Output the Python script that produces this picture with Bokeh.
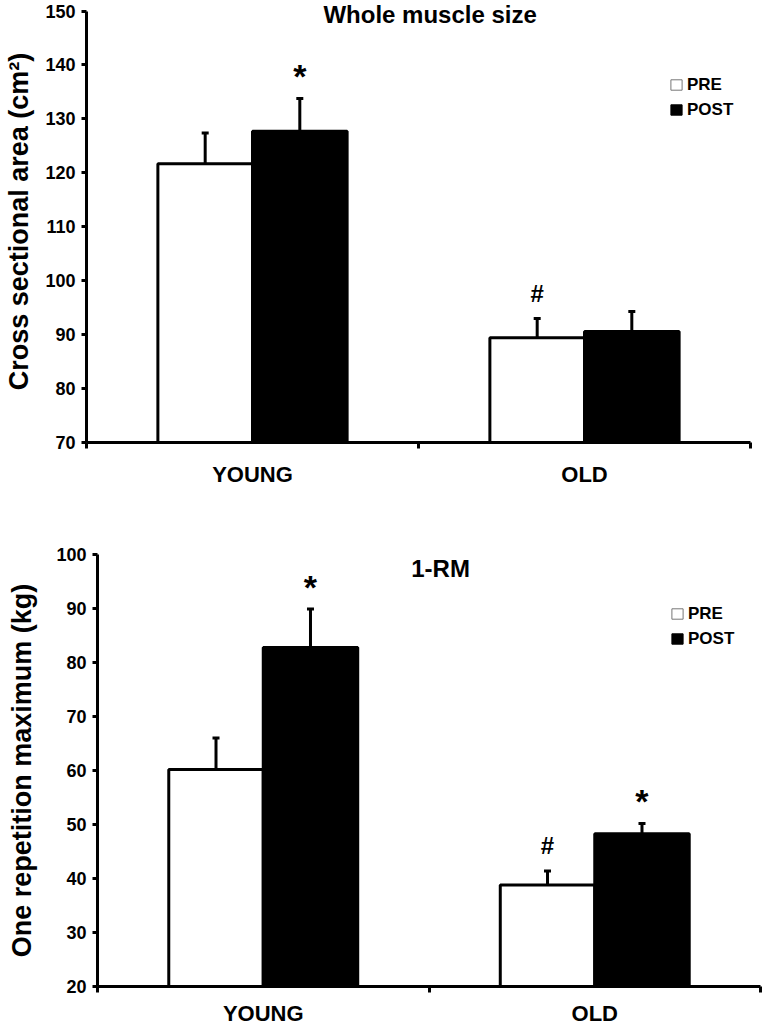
from bokeh.plotting import figure
from bokeh.layouts import column, row
from bokeh.models import Range1d, FixedTicker, Legend, LegendItem, Label
from bokeh.core.properties import value
from bokeh.embed import file_html
from bokeh.resources import INLINE

# ---------------- data ----------------
groups = ["YOUNG", "OLD"]

csa_pre = [121.7, 89.4]
csa_pre_se = [5.7, 3.6]
csa_post = [127.7, 90.6]
csa_post_se = [6.1, 3.7]
csa_pre_marks = ["", "#"]
csa_post_marks = ["*", ""]
csa_ticks = [70, 80, 90, 100, 110, 120, 130, 140, 150]

rm_pre = [60.2, 38.8]
rm_pre_se = [5.8, 2.6]
rm_post = [82.8, 48.3]
rm_post_se = [7.1, 1.9]
rm_pre_marks = ["", "#"]
rm_post_marks = ["*", "*"]
rm_ticks = [20, 30, 40, 50, 60, 70, 80, 90, 100]

FONT = "Liberation Sans"
BAR_W = 0.285


def make_panel(title, ylabel, ticks, pre, pre_se, post, post_se, pre_marks, post_marks,
               width, height, mb_left, mb_right, mb_top, mb_bottom, y_end, legend_xy,
               ylabel_standoff, xlabel_standoff):
    n = len(groups)
    centers = [i + 0.5 for i in range(n)]
    x_pre = [c - BAR_W / 2 for c in centers]
    x_post = [c + BAR_W / 2 for c in centers]
    y0 = ticks[0]

    p = figure(width=width, height=height, output_backend="svg", toolbar_location=None,
               x_range=Range1d(0, n), y_range=Range1d(ticks[0], y_end),
               min_border_left=mb_left, min_border_right=mb_right,
               min_border_top=mb_top, min_border_bottom=mb_bottom)
    p.outline_line_color = None
    p.xgrid.visible = False
    p.ygrid.visible = False
    p.background_fill_color = "white"
    p.border_fill_color = "white"

    p.vbar(x=x_pre, top=pre, bottom=y0, width=BAR_W, fill_color="white",
           line_color="black", line_width=3)
    p.vbar(x=x_post, top=post, bottom=y0, width=BAR_W, fill_color="black",
           line_color="black", line_width=3)

    # error bars (upper only)
    for xs, tops, ses in ((x_pre, pre, pre_se), (x_post, post, post_se)):
        ups = [t + s for t, s in zip(tops, ses)]
        p.segment(x0=xs, y0=tops, x1=xs, y1=ups, line_color="black", line_width=3)
        p.rect(x=xs, y=ups, width=7, height=3, width_units="screen", height_units="screen",
               fill_color="black", line_color=None)

    # significance marks
    pre_up = [t + s for t, s in zip(pre, pre_se)]
    post_up = [t + s for t, s in zip(post, post_se)]
    p.text(x=x_pre, y=pre_up, text=pre_marks, text_align="center", text_baseline="alphabetic",
           y_offset=-25, text_font=value(FONT), text_font_style="bold", text_font_size="24px",
           text_color="black")
    p.text(x=x_post, y=post_up, text=post_marks, text_align="center", text_baseline="alphabetic",
           y_offset=-22, text_font=value(FONT), text_font_style="bold", text_font_size="34px",
           text_color="black")

    # legend swatches: hidden copies of the bars with a thin outline
    l_pre = p.vbar(x=x_pre, top=pre, bottom=y0, width=BAR_W, fill_color="white",
                   line_color="#777777", line_width=1, visible=False)
    l_post = p.vbar(x=x_post, top=post, bottom=y0, width=BAR_W, fill_color="black",
                    line_color="black", line_width=1, visible=False)
    legend = Legend(items=[LegendItem(label="PRE", renderers=[l_pre]),
                           LegendItem(label="POST", renderers=[l_post])],
                    location=legend_xy, orientation="vertical",
                    glyph_width=14, glyph_height=13, label_height=25, label_standoff=4,
                    spacing=0, padding=0, margin=0, border_line_color=None,
                    background_fill_alpha=0, inactive_fill_alpha=0,
                    label_text_font=FONT, label_text_font_style="bold",
                    label_text_font_size="17px", label_text_color="black")
    p.add_layout(legend)

    # title inside the plot area
    p.add_layout(Label(x=1.035, y=y_end, text=title, text_align="center",
                       text_baseline="top", text_font=FONT, text_font_style="bold",
                       text_font_size="24px", text_color="black"))

    # y axis
    ya = p.yaxis[0]
    ya.ticker = FixedTicker(ticks=ticks)
    ya.bounds = (ticks[0], ticks[-1])
    ya.axis_label = ylabel
    ya.axis_label_text_font = FONT
    ya.axis_label_text_font_style = "bold"
    ya.axis_label_text_font_size = "27px"
    ya.axis_label_text_color = "black"
    ya.axis_label_standoff = ylabel_standoff
    ya.major_label_text_font = FONT
    ya.major_label_text_font_style = "bold"
    ya.major_label_text_font_size = "18px"
    ya.major_label_text_color = "black"
    ya.major_label_standoff = 6
    ya.axis_line_width = 3
    ya.axis_line_color = "black"
    ya.major_tick_in = 0
    ya.major_tick_out = 5
    ya.major_tick_line_width = 3
    ya.minor_tick_line_color = None

    # x axis: labels at group centres, tick marks at group boundaries
    xa = p.xaxis[0]
    xa.ticker = FixedTicker(ticks=centers, minor_ticks=[float(i) for i in range(n + 1)])
    xa.major_label_overrides = {c: g for c, g in zip(centers, groups)}
    xa.major_label_text_font = FONT
    xa.major_label_text_font_style = "bold"
    xa.major_label_text_font_size = "22px"
    xa.major_label_text_color = "black"
    xa.major_label_standoff = xlabel_standoff
    xa.axis_line_width = 3
    xa.axis_line_color = "black"
    xa.major_tick_in = 0
    xa.major_tick_out = 0
    xa.minor_tick_in = 0
    xa.minor_tick_out = 6
    xa.minor_tick_line_width = 3
    xa.minor_tick_line_color = "black"
    return p


p1 = make_panel("Whole muscle size", "Cross sectional area (cm\u00b2)", csa_ticks,
                csa_pre, csa_pre_se, csa_post, csa_post_se, csa_pre_marks, csa_post_marks,
                width=763, height=512, mb_left=86, mb_right=13, mb_top=0, mb_bottom=70,
                y_end=151.95, legend_xy=(583, 320), ylabel_standoff=8, xlabel_standoff=13)

p2 = make_panel("1-RM", "One repetition maximum (kg)", rm_ticks,
                rm_pre, rm_pre_se, rm_post, rm_post_se, rm_pre_marks, rm_post_marks,
                width=763, height=516, mb_left=97, mb_right=3, mb_top=42, mb_bottom=42,
                y_end=100, legend_xy=(573, 335), ylabel_standoff=16, xlabel_standoff=8)

layout = column(row(p1), row(p2), spacing=0)

open("out.html", "w").write(file_html(layout, INLINE))
